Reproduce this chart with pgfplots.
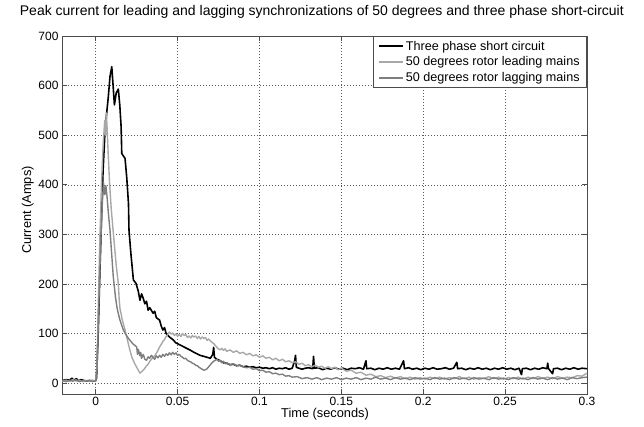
\documentclass[border=0pt]{standalone}
\usepackage{fontspec}
\setmainfont{Liberation Sans}
\usepackage{pgfplots}
\pgfplotsset{compat=1.18}
\definecolor{leadc}{HTML}{A8A8A8}
\definecolor{lagc}{HTML}{7E7E7E}
\begin{document}
\begin{tikzpicture}
\useasboundingbox (-62pt,-32pt) rectangle (582pt,394pt);
\begin{axis}[
  scale only axis, width=525pt, height=358pt,
  xmin=-0.0206, xmax=0.3, ymin=-22, ymax=700,
  xtick={0,0.05,0.1,0.15,0.2,0.25,0.3},
  xticklabels={0,0.05,0.1,0.15,0.2,0.25,0.3},
  scaled x ticks=false,
  ytick={0,100,200,300,400,500,600,700},
  /pgf/number format/assume math mode=true,
  ticklabel style={font=\fontsize{12}{14}\selectfont},
  tick align=inside, major tick length=5pt,
  tick style={black!70, line width=0.6pt},
  axis line style={black!70, line width=0.8pt},
  grid=major,
  major grid style={black!65, dash pattern=on 1pt off 2pt, line width=0.5pt},
  title={Peak current for leading and lagging synchronizations of 50 degrees and three phase short-circuit},
  title style={at={(0.495,1)}, anchor=base, yshift=14pt, font=\fontsize{14}{16}\selectfont},
  xlabel={Time (seconds)},
  xlabel style={at={(axis description cs:0.501,0)}, anchor=center, yshift=-20pt, font=\fontsize{12.8}{14}\selectfont},
  ylabel={Current (Amps)},
  ylabel style={at={(axis description cs:-0.065,0.514)}, anchor=center, font=\fontsize{12.8}{14}\selectfont},
  legend style={at={(1,1)}, anchor=north east, draw=black!70, line width=0.8pt, fill=white,
    font=\fontsize{12.6}{14}\selectfont, row sep=1.2pt, inner xsep=5pt, inner ysep=2.5pt, cells={anchor=west}},
  legend image code/.code={\draw[#1] (0pt,0pt) -- (24pt,0pt);},
  every axis plot/.append style={line width=1.4pt, line join=round},
]
\addplot[black, line width=1.6pt] coordinates {
(-0.0206,5)(-0.018,7)(-0.016,6)(-0.0145,10)(-0.0135,6)(-0.0117,9)(-0.011,5)(-0.009,7)(-0.007,5)(-0.005,4)(-0.003,5)(-0.001,4)(0,5)
(0.0005,10)(0.0015,100)(0.0025,220)(0.0035,330)(0.0045,430)(0.0057,510)(0.0067,545)(0.0077,578)(0.0087,618)(0.0098,638)
(0.0106,600)(0.0114,561)(0.0125,585)(0.0138,593)(0.0147,560)(0.0155,517)(0.0159,463)(0.0179,453)(0.0189,416)(0.02,362)
(0.0203,309)(0.0215,260)(0.023,208)(0.0246,201)(0.026,185)(0.027,167)(0.028,180)(0.029,171)(0.030,160)(0.031,165)
(0.032,147)(0.033,152)(0.035,141)(0.036,145)(0.037,132)(0.039,127)(0.040,115)(0.041,107)(0.042,112)(0.043,100)
(0.045,93)(0.047,88)(0.049,81)(0.052,76)(0.0556,70)(0.058,66)(0.06,62)(0.0637,56)(0.067,53)(0.070,50)(0.0715,58)
(0.072,72)(0.0725,52)(0.074,48)(0.076,45)(0.078,41)(0.08,40)(0.082,37)(0.084,38)(0.086,35)(0.088,36)(0.09,33)
(0.092,34)(0.094,32)(0.096,33)(0.098,31)(0.1,32)(0.102,30)(0.104,31)(0.106,29)(0.108,31)(0.11,28)(0.112,30)
(0.114,29)(0.116,31)(0.118,28)(0.12,30)(0.1215,45)(0.122,56)(0.1225,32)(0.124,30)(0.126,28)(0.128,30)
(0.13,31)(0.1325,29)(0.133,54)(0.1335,30)(0.136,31)(0.1385,27)(0.141,30)(0.1435,28)(0.146,31)(0.1485,28)(0.151,30)
(0.1535,27)(0.156,30)(0.1585,29)(0.161,31)(0.1635,28)(0.165,45)(0.1655,29)(0.168,30)(0.1705,27)(0.173,30)(0.1755,28)
(0.178,31)(0.1805,28)(0.183,30)(0.1855,28)(0.188,45)(0.1885,29)(0.191,31)(0.1935,28)(0.196,30)(0.1985,27)(0.201,30)
(0.2035,28)(0.206,31)(0.2085,28)(0.211,29)(0.2135,31)(0.216,28)(0.2185,30)(0.2205,42)(0.221,29)(0.2235,30)(0.226,27)
(0.2285,30)(0.231,28)(0.2335,31)(0.236,28)(0.2385,30)(0.241,27)(0.2435,30)(0.246,28)(0.2485,31)(0.251,28)(0.2535,30)
(0.256,27)(0.2585,30)(0.26,17)(0.2605,29)(0.263,30)(0.2655,27)(0.268,30)(0.2705,28)(0.273,31)(0.2755,29)(0.276,40)
(0.2765,29)(0.279,19)(0.2795,29)(0.282,30)(0.2845,27)(0.287,30)(0.2895,28)(0.292,31)(0.2945,28)(0.297,30)(0.3,29)
};
\addlegendentry{Three phase short circuit}
\addplot[leadc] coordinates {
(-0.0206,4)(-0.018,6)(-0.016,3)(-0.014,7)(-0.012,4)(-0.01,6)(-0.008,3)(-0.006,5)(-0.004,4)(-0.002,6)(0,4)
(0.0008,40)(0.0015,150)(0.0025,290)(0.0035,400)(0.0045,480)(0.0055,530)(0.006,500)(0.0065,545)(0.007,510)(0.0075,470)
(0.0085,400)(0.0095,350)(0.0105,312)(0.0115,275)(0.0125,238)(0.0133,215)(0.0138,200)(0.0143,170)(0.0148,150)(0.0155,140)
(0.016,130)(0.017,118)(0.0179,107)(0.019,92)(0.02,78)(0.021,65)(0.022,53)(0.023,45)(0.024,38)(0.025,32)(0.026,26)
(0.027,20)(0.028,23)(0.029,26)(0.03,30)(0.031,35)(0.032,38)(0.033,44)(0.034,48)(0.035,52)(0.036,55)(0.037,60)(0.038,66)
(0.039,73)(0.04,78)(0.041,84)(0.042,88)(0.043,94)(0.044,98)(0.045,103)(0.046,99)(0.047,101)(0.048,96)(0.049,99)(0.05,95)
(0.051,98)(0.052,94)(0.053,100)(0.054,96)(0.055,98)(0.056,92)(0.057,95)(0.058,91)(0.059,96)(0.06,93)(0.061,95)(0.062,90)
(0.063,94)(0.064,89)(0.065,93)(0.066,90)(0.067,92)(0.068,86)(0.069,89)(0.07,85)(0.071,82)(0.072,80)(0.073,76)(0.074,72)
(0.075,69)(0.076,67)(0.077,70)(0.078,66)(0.079,69)(0.08,64)(0.082,67)(0.084,62)(0.086,65)(0.088,60)(0.09,62)(0.092,57)
(0.094,60)(0.096,55)(0.098,57)(0.1,52)(0.102,55)(0.104,50)(0.106,52)(0.108,47)(0.11,50)(0.112,45)(0.114,48)(0.116,43)
(0.118,45)(0.12,41)(0.122,43)(0.124,38)(0.126,40)(0.128,35)(0.13,37)(0.132,33)(0.134,36)(0.136,32)(0.138,34)(0.14,30)
(0.142,33)(0.144,29)(0.146,32)(0.148,27)(0.15,30)(0.153,24)(0.156,26)(0.159,20)(0.162,22)(0.165,16)(0.168,18)(0.171,13)
(0.174,15)(0.177,11)(0.18,14)(0.183,10)(0.186,13)(0.189,9)(0.192,12)(0.195,8)(0.198,11)(0.201,8)(0.204,12)(0.207,9)
(0.21,12)(0.213,8)(0.216,11)(0.219,9)(0.222,13)(0.225,9)(0.228,12)(0.231,8)(0.234,11)(0.237,9)(0.24,13)(0.243,9)
(0.246,12)(0.249,8)(0.252,11)(0.255,9)(0.258,12)(0.261,8)(0.264,12)(0.267,9)(0.27,13)(0.273,10)(0.276,12)(0.279,9)
(0.282,13)(0.285,10)(0.288,12)(0.291,11)(0.294,15)(0.297,14)(0.3,20)
};
\addlegendentry{50 degrees rotor leading mains\hspace{6pt}}
\addplot[lagc] coordinates {
(-0.0206,5)(-0.018,3)(-0.016,6)(-0.014,4)(-0.012,7)(-0.01,3)(-0.008,5)(-0.006,4)(-0.004,6)(-0.002,3)(0,5)
(0.0008,30)(0.0018,150)(0.003,280)(0.004,360)(0.0047,405)(0.0055,380)(0.0062,398)(0.007,372)(0.0078,340)(0.0087,309)
(0.0097,262)(0.0107,215)(0.012,175)(0.013,152)(0.0138,140)(0.0147,128)(0.0155,120)(0.0169,107)(0.018,100)(0.019,95)
(0.02,90)(0.021,86)(0.022,82)(0.023,78)(0.024,76)(0.025,73)(0.0255,58)(0.026,68)(0.027,55)(0.0275,62)(0.028,50)(0.029,58)
(0.03,48)(0.031,46)(0.032,53)(0.033,50)(0.034,56)(0.035,52)(0.036,48)(0.037,55)(0.038,51)(0.039,56)(0.04,52)(0.041,58)
(0.042,54)(0.043,59)(0.044,56)(0.045,61)(0.046,57)(0.047,62)(0.048,58)(0.049,61)(0.05,56)(0.051,58)(0.052,54)(0.053,52)
(0.054,49)(0.055,50)(0.056,46)(0.057,44)(0.058,43)(0.059,40)(0.06,39)(0.061,36)(0.062,35)(0.063,32)(0.064,30)(0.065,28)
(0.066,26)(0.067,27)(0.068,29)(0.069,33)(0.07,37)(0.071,41)(0.072,44)(0.073,46)(0.074,48)(0.075,44)(0.076,46)(0.077,41)
(0.078,44)(0.079,39)(0.08,41)(0.082,37)(0.084,39)(0.086,35)(0.088,36)(0.09,33)(0.092,31)(0.094,32)(0.096,28)(0.098,29)
(0.1,25)(0.102,26)(0.104,22)(0.106,23)(0.108,19)(0.11,20)(0.112,17)(0.114,18)(0.116,14)(0.118,15)(0.12,12)(0.123,13)
(0.126,9)(0.129,11)(0.132,8)(0.135,11)(0.138,7)(0.141,10)(0.144,8)(0.147,11)(0.15,7)(0.153,10)(0.156,8)(0.159,11)
(0.162,7)(0.165,10)(0.168,8)(0.171,12)(0.174,8)(0.177,10)(0.18,7)(0.183,11)(0.186,8)(0.189,10)(0.192,7)(0.195,11)
(0.198,8)(0.201,10)(0.204,7)(0.207,11)(0.21,8)(0.213,10)(0.216,7)(0.219,11)(0.222,8)(0.225,10)(0.228,7)(0.231,11)
(0.234,8)(0.237,10)(0.24,7)(0.243,11)(0.246,8)(0.249,10)(0.252,7)(0.255,11)(0.258,8)(0.261,10)(0.264,7)(0.267,11)
(0.27,8)(0.273,10)(0.276,7)(0.279,11)(0.282,8)(0.285,10)(0.288,7)(0.291,11)(0.294,9)(0.297,11)(0.3,12)
};
\addlegendentry{50 degrees rotor lagging mains\hspace{6pt}}
\end{axis}
\end{tikzpicture}
\end{document}
